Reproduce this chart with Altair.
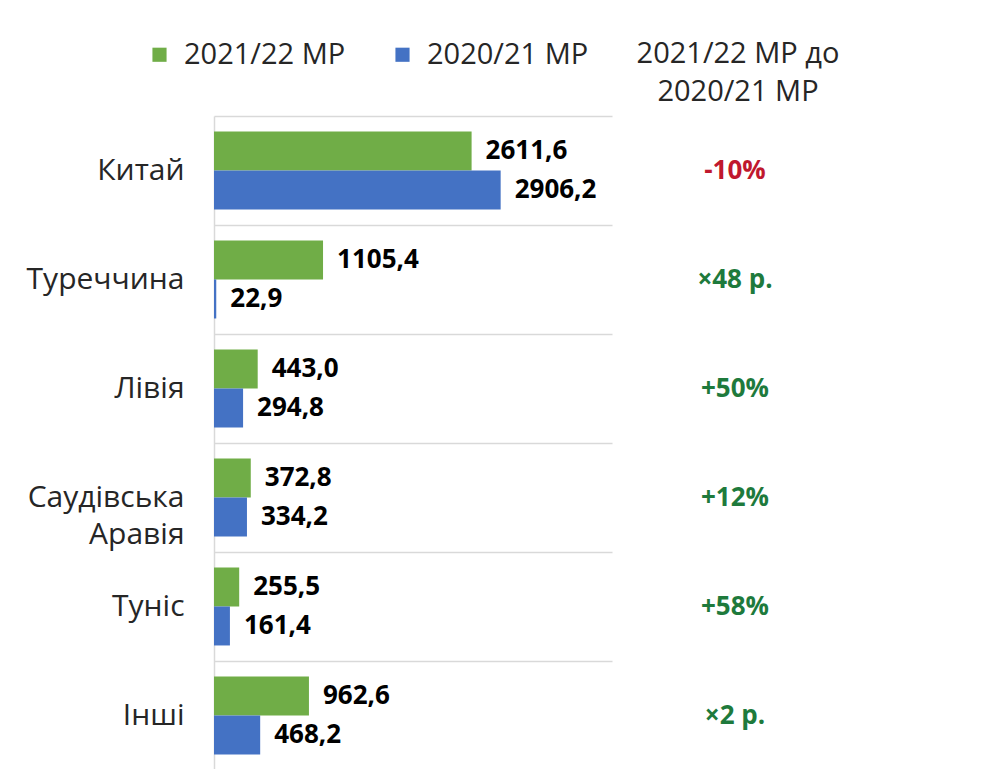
import altair as alt
import pandas as pd

countries = ["Китай", "Туреччина", "Лівія", "Саудівська Аравія", "Туніс", "Інші"]
series_names = ["2021/22 МР", "2020/21 МР"]
values_2122 = [2611.6, 1105.4, 443.0, 372.8, 255.5, 962.6]
values_2021 = [2906.2, 22.9, 294.8, 334.2, 161.4, 468.2]
changes = ["-10%", "×48 р.", "+50%", "+12%", "+58%", "×2 р."]
header = "2021/22 МР до\n2020/21 МР"

rows = []
for c, a, b in zip(countries, values_2122, values_2021):
    rows.append({"country": c, "series": series_names[0], "value": a})
    rows.append({"country": c, "series": series_names[1], "value": b})
df = pd.DataFrame(rows)
df_chg = pd.DataFrame({"country": countries, "change": changes})
df_hdr = pd.DataFrame({"t": [header]})

FONT = "Open Sans"
y_enc = alt.Y("country:N", sort=countries,
              scale=alt.Scale(paddingInner=0, paddingOuter=0),
              axis=alt.Axis(title=None, ticks=False, domainColor="#d9d9d9", domainWidth=1.5,
                            grid=True, gridColor="#d9d9d9", gridWidth=1.5, bandPosition=0,
                            labelFontSize=30, labelColor="#262626", labelFont=FONT,
                            labelPadding=30, labelLineHeight=37, labelLimit=300,
                            labelExpr="datum.label == 'Саудівська Аравія' ? ['Саудівська', 'Аравія'] : datum.label"))
yoff = alt.YOffset("series:N", sort=series_names,
                   scale=alt.Scale(paddingInner=0, paddingOuter=0.4))
x_enc = alt.X("value:Q", scale=alt.Scale(domain=[0, 4035], nice=False, zero=True), axis=None)

bars = alt.Chart(df).mark_bar(size=39).encode(
    x=x_enc, y=y_enc, yOffset=yoff,
    color=alt.Color("series:N", sort=series_names,
                    scale=alt.Scale(domain=series_names, range=["#70AD47", "#4472C4"]),
                    legend=alt.Legend(title=None, orient="none", direction="horizontal",
                                      legendX=-69, legendY=-76, symbolType="square",
                                      symbolSize=200, symbolStrokeWidth=0,
                                      labelFontSize=29, labelFont=FONT, labelColor="#262626",
                                      labelOffset=10, columnPadding=42, labelLimit=400))
)

labels = alt.Chart(df).transform_calculate(
    lab="replace(format(datum.value, '.1f'), '.', ',')"
).mark_text(align="left", baseline="middle", dx=14, fontSize=26, fontWeight="bold",
            font=FONT, color="#000000").encode(
    x=x_enc, y=alt.Y("country:N", sort=countries), yOffset=alt.YOffset("series:N", sort=series_names), text="lab:N"
)

chg = alt.Chart(df_chg).mark_text(align="center", baseline="middle", fontSize=26,
                                  fontWeight="bold", font=FONT).encode(
    x=alt.value(521), y=alt.Y("country:N", sort=countries), text="change:N",
    color=alt.condition("indexof(datum.change, '-') == 0", alt.value("#C0182E"), alt.value("#1E7A3C"))
)

hdr = alt.Chart(df_hdr).mark_text(align="center", baseline="alphabetic", fontSize=29,
                                  font=FONT, color="#262626", lineBreak="\n", lineHeight=38).encode(
    x=alt.value(524), y=alt.value(-53), text="t:N"
)

chart = alt.layer(bars, labels, chg, hdr).properties(
    width=398, height=654,
    background="white",
    autosize=alt.AutoSizeParams(type="none"),
    padding={"left": 206, "top": 108, "right": 369, "bottom": 0},
).configure_view(stroke=None)

chart.save("out.html", embed_options={"renderer": "svg", "actions": False})
